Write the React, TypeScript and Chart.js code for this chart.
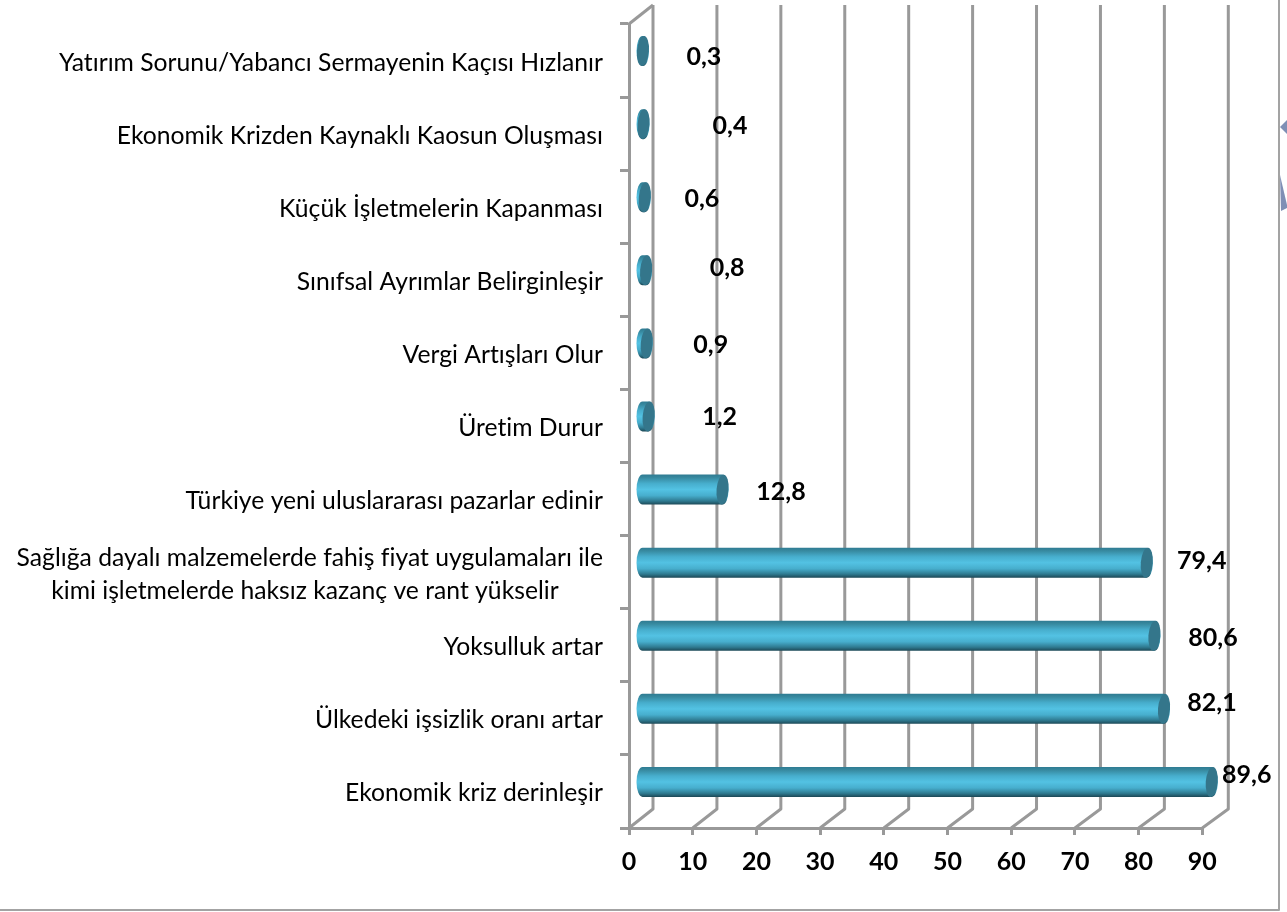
import React, { useEffect, useRef } from "react";
import { Chart, registerables } from "chart.js";

Chart.register(...registerables);

const categories: (string | string[])[] = [
  "Ekonomik kriz derinleşir",
  "Ülkedeki işsizlik oranı artar",
  "Yoksulluk artar",
  ["Sağlığa dayalı malzemelerde fahiş fiyat uygulamaları ile", "kimi işletmelerde haksız kazanç ve rant yükselir       "],
  "Türkiye yeni uluslararası pazarlar edinir",
  "Üretim Durur",
  "Vergi Artışları Olur",
  "Sınıfsal Ayrımlar Belirginleşir",
  "Küçük İşletmelerin Kapanması",
  "Ekonomik Krizden Kaynaklı Kaosun Oluşması",
  "Yatırım Sorunu/Yabancı Sermayenin Kaçısı Hızlanır",
];
const values = [89.6, 82.1, 80.6, 79.4, 12.8, 1.2, 0.9, 0.8, 0.6, 0.4, 0.3];
const valueLabels = ["89,6", "82,1", "80,6", "79,4", "12,8", "1,2", "0,9", "0,8", "0,6", "0,4", "0,3"];
const labelDx = [35, 48, 58.6, 55, 58.5, 71, 64, 81, 57, 86.5, 61];
const labelDy = [-7, -6, 2, -2, 2.4, 0, 2, -2, 2, 2, 6];

const GRID = "#999999";
const DEPTH_X = 24;
const DEPTH_Y = 19;
const BAR_DX = 12;
const BAR_DY = -9.5;
const CAP_RX = 6;

const scene = {
  id: "scene",
  beforeDraw(chart: any) {
    chart.ctx.letterSpacing = "0.01px";
    // category labels sit 2px below the slot centre
    chart.scales.y.getLabelItems(chart.chartArea).forEach((item: any) => {
      item.options.translation = [item.options.translation[0], item.options.translation[1] + 2];
    });
  },
  beforeDatasetsDraw(chart: any) {
    const { ctx, chartArea, scales } = chart;
    const x = scales.x;
    ctx.save();
    ctx.strokeStyle = GRID;
    ctx.lineWidth = 3;
    ctx.lineJoin = "round";
    const top = chartArea.top;
    const bottom = chartArea.bottom;
    x.ticks.forEach((t: any) => {
      const px = x.getPixelForValue(t.value);
      const bx = px + DEPTH_X + (t.value / 90) * 2;
      ctx.beginPath();
      ctx.moveTo(bx, top - DEPTH_Y);
      ctx.lineTo(bx, bottom - DEPTH_Y);
      ctx.lineTo(px, bottom);
      ctx.stroke();
    });
    ctx.beginPath();
    ctx.moveTo(chartArea.left, top);
    ctx.lineTo(chartArea.left + DEPTH_X, top - DEPTH_Y);
    ctx.stroke();
    // outer frame of the picture
    ctx.strokeStyle = "#a3a3a3";
    ctx.lineWidth = 2;
    ctx.beginPath();
    ctx.moveTo(1279, 0);
    ctx.lineTo(1279, 910);
    ctx.lineTo(0, 910);
    ctx.stroke();
    // clipped arrow shapes at the right edge
    ctx.fillStyle = "#7f8fb5";
    ctx.beginPath();
    ctx.moveTo(1280, 127);
    ctx.lineTo(1287, 120);
    ctx.lineTo(1287, 134);
    ctx.closePath();
    ctx.fill();
    ctx.beginPath();
    ctx.moveTo(1280, 175);
    ctx.lineTo(1287, 205);
    ctx.lineTo(1287, 208);
    ctx.lineTo(1281, 211);
    ctx.closePath();
    ctx.fill();
    ctx.restore();
  },
  afterDatasetsDraw(chart: any) {
    const { ctx } = chart;
    const meta = chart.getDatasetMeta(0);
    ctx.save();
    meta.data.forEach((bar: any, i: number) => {
      const y = bar.y + BAR_DY;
      const h = bar.height;
      const t = y - h / 2;
      const x0 = bar.base + BAR_DX;
      const x1 = bar.x + BAR_DX;
      const g = ctx.createLinearGradient(0, t, 0, t + h);
      g.addColorStop(0, "#2f7b92");
      g.addColorStop(0.1, "#37899f");
      g.addColorStop(0.3, "#47aecd");
      g.addColorStop(0.5, "#53c2e3");
      g.addColorStop(0.7, "#47aecd");
      g.addColorStop(0.88, "#2f7a90");
      g.addColorStop(1, "#1c4856");
      ctx.fillStyle = g;
      ctx.beginPath();
      ctx.moveTo(x0, t);
      ctx.lineTo(x1, t);
      ctx.ellipse(x1, y, CAP_RX, h / 2, 0, -Math.PI / 2, Math.PI / 2);
      ctx.lineTo(x0, t + h);
      ctx.ellipse(x0, y, CAP_RX, h / 2, 0, Math.PI / 2, (3 * Math.PI) / 2);
      ctx.closePath();
      ctx.fill();
      ctx.fillStyle = "#34768b";
      ctx.beginPath();
      ctx.ellipse(x1, y, CAP_RX, h / 2, 0.08, 0, Math.PI * 2);
      ctx.fill();

      ctx.fillStyle = "#000";
      ctx.font = "bold 25px Lato";
      ctx.textAlign = "center";
      ctx.textBaseline = "middle";
      ctx.fillText(valueLabels[i], bar.x + 12 + labelDx[i], y + labelDy[i]);
    });
    ctx.restore();
  },
};

export default function App() {
  const ref = useRef<HTMLCanvasElement>(null);
  useEffect(() => {
    const chart = new Chart(ref.current!, {
      type: "bar",
      data: {
        labels: categories as any,
        datasets: [{ data: values, backgroundColor: "rgba(0,0,0,0)", barThickness: 30 }],
      },
      options: {
        indexAxis: "y",
        responsive: false,
        animation: false,
        layout: { autoPadding: false, padding: { left: 0, right: 84.7, top: 24, bottom: 0 } },
        plugins: { legend: { display: false }, tooltip: { enabled: false } },
        scales: {
          x: {
            min: 0,
            max: 90,
            ticks: { stepSize: 10, color: "#000", font: { family: "Lato", size: 25, weight: "bold" }, padding: 12, maxRotation: 0 },
            grid: { drawOnChartArea: false, color: GRID, lineWidth: 3, tickLength: 7 },
            border: { color: GRID, width: 3 },
            afterFit: (s: any) => { s.height = 84; s.paddingLeft = 0; s.paddingRight = 0; },
          },
          y: {
            reverse: true,
            ticks: { color: "#000", font: { family: "Lato", size: 24.7, lineHeight: 1.33 }, padding: 17, autoSkip: false },
            grid: { drawOnChartArea: false, color: GRID, lineWidth: 3, tickLength: 9 },
            border: { color: GRID, width: 3 },
            afterFit: (s: any) => { s.width = 629; s.paddingTop = 0; s.paddingBottom = 0; },
          },
        },
      },
      plugins: [scene],
    } as any);
    return () => chart.destroy();
  }, []);
  return (
    <canvas
      ref={ref}
      width={1287}
      height={912}
      style={{ position: "absolute", left: 0, top: 0, display: "block", background: "#fff" }}
    />
  );
}
